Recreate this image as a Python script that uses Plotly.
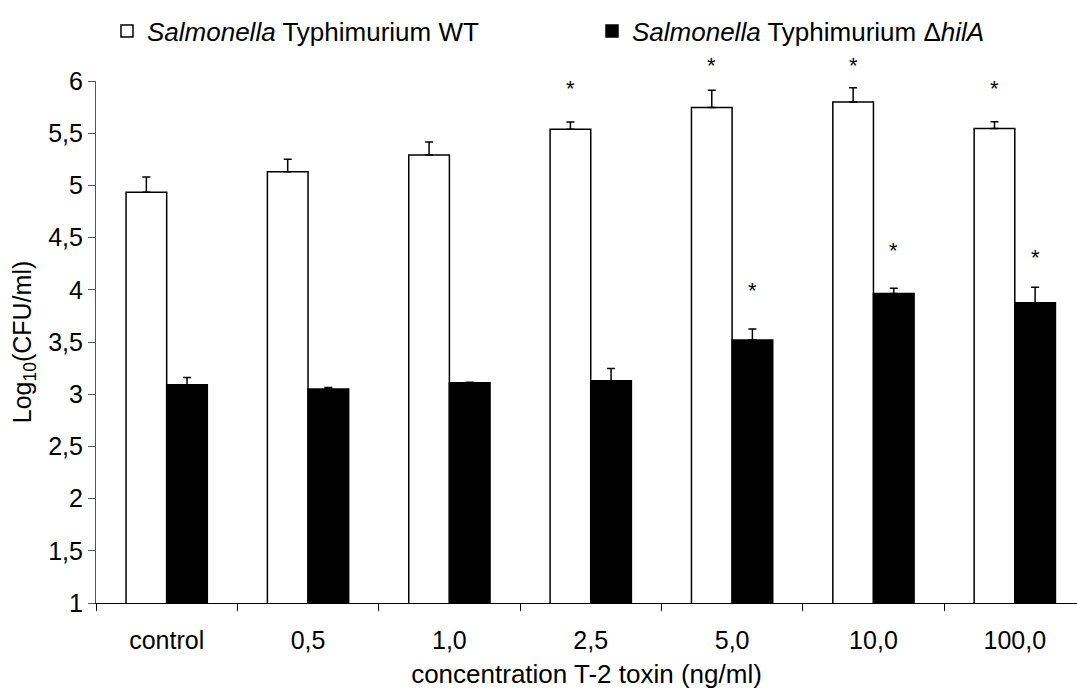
import plotly.graph_objects as go

categories = ["control", "0,5", "1,0", "2,5", "5,0", "10,0", "100,0"]
wt_values = [4.935, 5.13, 5.29, 5.538, 5.747, 5.80, 5.545]
wt_errors = [0.145, 0.12, 0.125, 0.07, 0.164, 0.135, 0.065]
hila_values = [3.09, 3.05, 3.11, 3.128, 3.52, 3.964, 3.875]
hila_errors = [0.07, 0.015, 0.005, 0.117, 0.105, 0.05, 0.15]
wt_star_y = [None, None, None, 5.93, 6.15, 6.15, 5.93]
hila_star_y = [None, None, None, None, 3.99, 4.38, 4.31]
y_ticks = [1, 1.5, 2, 2.5, 3, 3.5, 4, 4.5, 5, 5.5, 6]
y_tick_text = ["1", "1,5", "2", "2,5", "3", "3,5", "4", "4,5", "5", "5,5", "6"]

FONT = "Liberation Sans, Arial, sans-serif"
FS = 25
BARGAP = 0.425
X_RANGE = [-0.5, 6.44]
Y_RANGE = [1, 6]
MARGIN = dict(l=96, r=0, t=81, b=88)
W, H = 1077, 691

fig = go.Figure()
fig.add_trace(go.Bar(
    x=categories, y=wt_values, name="<i>Salmonella</i> Typhimurium WT",
    marker=dict(color="white", line=dict(color="black", width=1.5)),
    error_y=dict(type="data", array=wt_errors, arrayminus=[0]*len(wt_errors),
                 symmetric=False, color="black", thickness=1.5, width=4),
))
fig.add_trace(go.Bar(
    x=categories, y=hila_values, name="<i>Salmonella</i> Typhimurium Δ<i>hilA</i>",
    marker=dict(color="black", line=dict(color="black", width=1.5)),
    error_y=dict(type="data", array=hila_errors, arrayminus=[0]*len(hila_errors),
                 symmetric=False, color="black", thickness=1.5, width=4),
))

# half bar width in pixels, derived from axis scale
plot_w = W - MARGIN["l"] - MARGIN["r"]
px_per_cat = plot_w / (X_RANGE[1] - X_RANGE[0])
half_bar = px_per_cat * (1 - BARGAP) / 4


def to_paper(v):
    return (v - Y_RANGE[0]) / (Y_RANGE[1] - Y_RANGE[0])


annotations = []
for cat, ys in zip(categories, wt_star_y):
    if ys is not None:
        annotations.append(dict(x=cat, xref="x", y=to_paper(ys), yref="paper", text="*",
                                showarrow=False, xshift=-half_bar, yanchor="middle",
                                font=dict(size=22, family=FONT)))
for cat, ys in zip(categories, hila_star_y):
    if ys is not None:
        annotations.append(dict(x=cat, xref="x", y=to_paper(ys), yref="paper", text="*",
                                showarrow=False, xshift=half_bar, yanchor="middle",
                                font=dict(size=22, family=FONT)))

fig.update_layout(
    width=W, height=H,
    margin=MARGIN,
    paper_bgcolor="white", plot_bgcolor="white",
    font=dict(family=FONT, size=FS, color="black"),
    barmode="group", bargap=BARGAP, bargroupgap=0,
    showlegend=True,
    annotations=annotations,
    legend=dict(orientation="h", x=0.02, xanchor="left", y=0.955, yanchor="middle",
                yref="container", entrywidth=440, entrywidthmode="pixels",
                font=dict(size=26, family=FONT), traceorder="normal"),
    xaxis=dict(range=X_RANGE, showline=True, linecolor="black", linewidth=1.2,
               ticks="outside", tickson="boundaries", ticklen=7, tickcolor="black",
               showgrid=False, ticklabelstandoff=15, automargin=False,
               title=dict(text="concentration T-2 toxin (ng/ml)", standoff=11,
                          font=dict(size=26))),
    yaxis=dict(range=Y_RANGE, tickvals=y_ticks, ticktext=y_tick_text,
               showline=True, linecolor="#555555", linewidth=1.2,
               ticks="outside", ticklen=7, tickcolor="#555555", showgrid=False,
               zeroline=False, automargin=False,
               title=dict(text="Log<sub>10</sub>(CFU/ml)", standoff=9,
                          font=dict(size=FS))),
)

fig.write_html("out.html", config={"displayModeBar": False},
               post_script="document.body.style.margin='0';")
